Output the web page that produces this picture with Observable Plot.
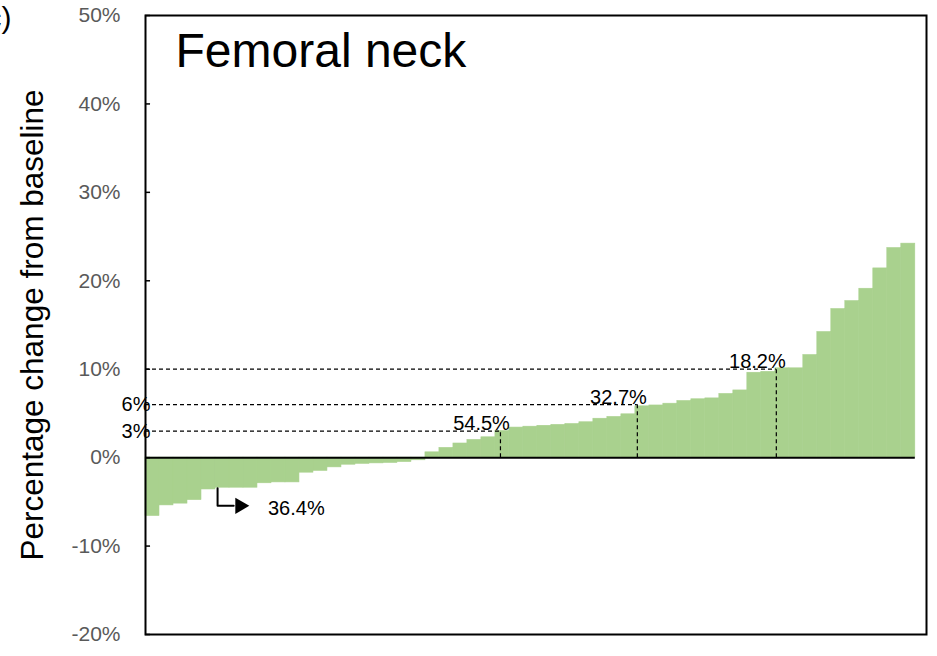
<!DOCTYPE html>
<html>
<head>
<meta charset="utf-8">
<script src="https://cdn.jsdelivr.net/npm/d3@7"></script>
<script src="https://cdn.jsdelivr.net/npm/@observablehq/plot@0.6"></script>
<style>
  html, body { margin: 0; padding: 0; background: #fff; }
  #chart svg { display: block; }
</style>
</head>
<body>
<div id="chart"></div>
<script>
// Per-patient change in femoral neck BMD, sorted ascending (percent)
const changes = [
  -6.6, -5.4, -5.2, -4.8, -3.6, -3.4, -3.4, -3.4, -2.9, -2.8,
  -2.8, -1.7, -1.5, -1.1, -0.8, -0.7, -0.65, -0.6, -0.5, -0.3,
  0.6, 1.1, 1.6, 2.0, 2.3, 3.0, 3.4, 3.5, 3.6, 3.7,
  3.8, 4.0, 4.4, 4.6, 4.9, 5.8, 5.9, 6.1, 6.4, 6.6,
  6.7, 7.2, 7.6, 9.6, 9.7, 10.1, 10.1, 11.6, 14.2, 16.8,
  17.7, 19.1, 21.4, 23.7, 24.2
];
const yTicks = [-20, -10, 0, 10, 20, 30, 40, 50];
const cutoffs = [3, 6, 10];              // response thresholds (%)
const cutoffAt = [25.36, 35.14, 45.07];  // band position of each vertical guide
const cutoffTickLabels = [3, 6];         // thresholds labelled beside the axis
const arrowPath = [
  {x: 5.15, y: -3.45},
  {x: 5.15, y: -5.45},
  {x: 6.3, y: -5.45}
];
const arrowHead = [{x: 6.75, y: -5.45}];
const lossLabelAt = [{x: 8.75, y: -5.75}];

const n = changes.length;
const pct = (k) => (100 * k / n).toFixed(1) + "%";
const guides = cutoffs.map((c, i) => ({
  c,
  at: cutoffAt[i],
  share: pct(changes.filter((v) => v >= c).length)
}));
const lossShare = pct(changes.filter((v) => v < 0).length);
const bars = changes.map((v, i) => ({i, v}));

const font = "'Liberation Sans', Arial, Helvetica, sans-serif";

const chart = Plot.plot({
  width: 937,
  height: 656,
  marginLeft: 145,
  marginRight: 11,
  marginTop: 15,
  marginBottom: 22,
  style: {fontFamily: font, background: "#fff", overflow: "visible"},
  x: {domain: [0, 55.8], axis: null},
  y: {domain: [-20, 50], axis: null},
  marks: [
    Plot.rectY(bars, {
      x1: "i",
      x2: (d) => d.i + 1,
      y1: 0,
      y2: "v",
      fill: "#A9D18E",
      stroke: "#A9D18E",
      strokeWidth: 0.6
    }),
    Plot.ruleY([0], {x1: 0, x2: n, stroke: "#000", strokeWidth: 2}),
    // dashed guides: horizontal from the axis, vertical down to zero
    Plot.ruleY(guides, {x1: 0, x2: "at", y: "c", stroke: "#000", strokeWidth: 1.2, strokeDasharray: "4,3"}),
    Plot.ruleX(guides, {x: "at", y1: 0, y2: "c", stroke: "#000", strokeWidth: 1.2, strokeDasharray: "4,3"}),
    Plot.text(guides, {
      x: (d) => d.at - 1.35,
      y: "c",
      text: "share",
      textAnchor: "middle",
      lineAnchor: "bottom",
      dy: -1,
      fontSize: 20,
      fill: "#000"
    }),
    Plot.text(cutoffTickLabels, {
      x: 0,
      y: (d) => d,
      text: (d) => d + "%",
      textAnchor: "end",
      lineAnchor: "middle",
      dx: 5,
      fontSize: 20,
      fill: "#000"
    }),
    // arrow pointing to the share of patients with bone loss
    Plot.line(arrowPath, {x: "x", y: "y", stroke: "#000", strokeWidth: 2}),
    Plot.dot(arrowHead, {x: "x", y: "y", symbol: "triangle", rotate: 90, r: 6, fill: "#000", stroke: "none"}),
    Plot.text(lossLabelAt, {
      x: "x",
      y: "y",
      text: () => lossShare,
      textAnchor: "start",
      lineAnchor: "middle",
      fontSize: 20,
      fill: "#000"
    }),
    Plot.frame({stroke: "#000", strokeWidth: 2}),
    Plot.ruleY(yTicks, {x1: 0, x2: 0.36, stroke: "#000", strokeWidth: 1.5}),
    Plot.axisY(yTicks, {
      anchor: "left",
      tickSize: 0,
      tickPadding: 25,
      tickFormat: (d) => d + "%",
      fontSize: 21,
      color: "#595959",
      label: null
    }),
    Plot.text(["Percentage change from baseline"], {
      frameAnchor: "left",
      dx: -113,
      rotate: -90,
      textAnchor: "middle",
      lineAnchor: "middle",
      fontSize: 31.5,
      fill: "#000"
    }),
    Plot.text(["Femoral neck"], {
      frameAnchor: "top-left",
      dx: 30,
      dy: 17,
      textAnchor: "start",
      lineAnchor: "top",
      fontSize: 48,
      fill: "#000"
    }),
    Plot.text(["(c)"], {
      frameAnchor: "top-left",
      dx: -134,
      dy: -9,
      textAnchor: "end",
      lineAnchor: "top",
      fontSize: 30,
      fill: "#000"
    })
  ]
});

document.getElementById("chart").append(chart);
</script>
</body>
</html>
